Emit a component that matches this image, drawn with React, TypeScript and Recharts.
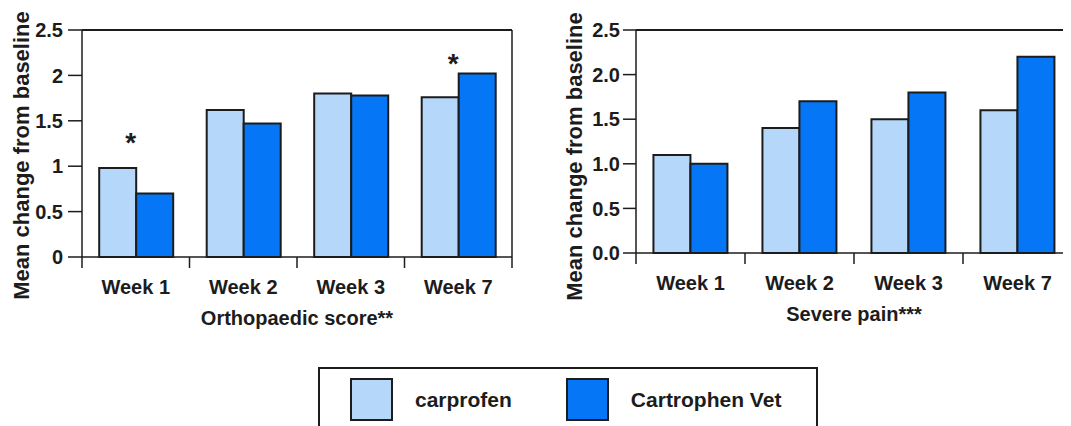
import React from "react";
import { BarChart, Bar, XAxis, YAxis, ReferenceLine, ReferenceDot } from "recharts";

// ---- data ----
const weeks = ["Week 1", "Week 2", "Week 3", "Week 7"];
const orthoCarprofen = [0.98, 1.62, 1.8, 1.76];
const orthoCartrophen = [0.7, 1.47, 1.78, 2.02];
const painCarprofen = [1.1, 1.4, 1.5, 1.6];
const painCartrophen = [1.0, 1.7, 1.8, 2.2];
const yTicks = [0, 0.5, 1, 1.5, 2, 2.5];
const seriesNames = ["carprofen", "Cartrophen Vet"];
const seriesColors = ["#B4D7FA", "#0576F5"];
const orthoSigWeeks = ["Week 1", "Week 7"];
const orthoSigLevels = [1.32, 2.19];
const painSigWeeks: string[] = [];
const painSigLevels: number[] = [];
const leftTitle = "Orthopaedic score**";
const rightTitle = "Severe pain***";
const yTitle = "Mean change from baseline";

const FONT = "Arial, 'Liberation Sans', Helvetica, sans-serif";
const INK = "#1c1c1c";
const X_TICK_SIZE = 11;
const X_TICK_MARGIN = 12;

const buildRows = (a: number[], b: number[]) =>
  weeks.map((w, i) => ({ week: w, carprofen: a[i], cartrophen: b[i] }));

const orthoRows = buildRows(orthoCarprofen, orthoCartrophen);
const painRows = buildRows(painCarprofen, painCartrophen);

function WeekTick(props: any) {
  const { x, y, payload, index } = props;
  const half = payload && payload.offset ? payload.offset : 0;
  const axisY = y - X_TICK_SIZE - X_TICK_MARGIN;
  const isLast = index === weeks.length - 1;
  return (
    <g>
      <line x1={x - half} x2={x - half} y1={axisY} y2={axisY + X_TICK_SIZE} stroke={INK} strokeWidth={1.5} />
      {isLast && (
        <line x1={x + half} x2={x + half} y1={axisY} y2={axisY + X_TICK_SIZE} stroke={INK} strokeWidth={1.5} />
      )}
      <text x={x} y={y + 14} textAnchor="middle" fontFamily={FONT} fontSize={20} fontWeight="bold" fill={INK}>
        {payload.value}
      </text>
    </g>
  );
}

const Star = (p: any) => (
  <text x={p.cx - 5} y={p.cy + 15} textAnchor="middle" fontFamily={FONT} fontSize={28} fontWeight="bold" fill={INK}>
    *
  </text>
);

type PanelProps = {
  rows: any[];
  title: string;
  width: number;
  margin: { top: number; right: number; bottom: number; left: number };
  yAxisWidth: number;
  yTickSize: number;
  yTickMargin: number;
  labelOffset: number;
  labelDy: number;
  fmt: (v: number) => string;
  sigWeeks: string[];
  sigLevels: number[];
};

function Panel(p: PanelProps) {
  return (
    <BarChart width={p.width} height={340} data={p.rows} margin={p.margin} barCategoryGap="16%" barGap={0}>
      <XAxis
        dataKey="week"
        height={80}
        tickSize={X_TICK_SIZE}
        tickMargin={X_TICK_MARGIN}
        tickLine={false}
        axisLine={{ stroke: INK, strokeWidth: 1.5 }}
        tick={<WeekTick />}
        interval={0}
        label={{
          value: p.title,
          position: "insideBottom",
          offset: 12,
          fill: INK,
          fontSize: 20,
          fontWeight: "bold",
          fontFamily: FONT,
        }}
      />
      <YAxis
        width={p.yAxisWidth}
        domain={[0, 2.5]}
        ticks={yTicks}
        tickFormatter={p.fmt}
        tickSize={p.yTickSize}
        tickMargin={p.yTickMargin}
        tickLine={{ stroke: INK, strokeWidth: 1.5 }}
        axisLine={{ stroke: INK, strokeWidth: 1.5 }}
        tick={{ fill: INK, fontSize: 20, fontWeight: "bold", fontFamily: FONT }}
        label={{
          value: yTitle,
          angle: -90,
          position: "insideLeft",
          offset: p.labelOffset,
          dy: p.labelDy,
          fill: INK,
          fontSize: 22,
          fontWeight: "bold",
          fontFamily: FONT,
          style: { textAnchor: "middle" },
        }}
      />
      <YAxis
        yAxisId="frame"
        orientation="right"
        width={1}
        domain={[0, 2.5]}
        tick={false}
        tickLine={false}
        axisLine={{ stroke: INK, strokeWidth: 1.5 }}
      />
      <ReferenceLine y={2.5} stroke={INK} strokeWidth={2} />
      <Bar dataKey="carprofen" name={seriesNames[0]} fill={seriesColors[0]} stroke={INK} strokeWidth={2} isAnimationActive={false} />
      <Bar dataKey="cartrophen" name={seriesNames[1]} fill={seriesColors[1]} stroke={INK} strokeWidth={2} isAnimationActive={false} />
      {p.sigWeeks.map((w, i) => (
        <ReferenceDot key={w} x={w} y={p.sigLevels[i]} r={1} shape={Star} />
      ))}
    </BarChart>
  );
}

function LegendBox() {
  return (
    <div
      style={{
        position: "absolute",
        left: 310,
        top: 359,
        width: 500,
        height: 80,
        border: `2px solid ${INK}`,
        display: "flex",
        alignItems: "flex-start",
        paddingLeft: 30,
        paddingTop: 9,
        boxSizing: "border-box",
        fontFamily: FONT,
        fontWeight: "bold",
        fontSize: 21,
        color: INK,
        whiteSpace: "nowrap",
      }}
    >
      {seriesNames.map((n, i) => (
        <div key={n} style={{ display: "flex", alignItems: "center", marginRight: 54, flexShrink: 0 }}>
          <div
            style={{
              width: 43,
              height: 43,
              boxSizing: "border-box",
              background: seriesColors[i],
              border: `2px solid ${INK}`,
              marginRight: 22,
              flexShrink: 0,
            }}
          />
          <span>{n}</span>
        </div>
      ))}
    </div>
  );
}

export default function App() {
  return (
    <div style={{ position: "relative", width: 1063, height: 418, overflow: "hidden", background: "#fff" }}>
      <div style={{ position: "absolute", left: 0, top: 0 }}>
        <Panel
          rows={orthoRows}
          title={leftTitle}
          width={530}
          margin={{ top: 22, right: 25, bottom: 11, left: 0 }}
          yAxisWidth={74}
          yTickSize={14}
          yTickMargin={5}
          labelOffset={13}
          labelDy={12}
          fmt={(v: number) => String(v)}
          sigWeeks={orthoSigWeeks}
          sigLevels={orthoSigLevels}
        />
      </div>
      <div style={{ position: "absolute", left: 540, top: 0 }}>
        <Panel
          rows={painRows}
          title={rightTitle}
          width={540}
          margin={{ top: 22, right: 15, bottom: 15, left: 0 }}
          yAxisWidth={88}
          yTickSize={13}
          yTickMargin={3}
          labelOffset={26}
          labelDy={15}
          fmt={(v: number) => v.toFixed(1)}
          sigWeeks={painSigWeeks}
          sigLevels={painSigLevels}
        />
      </div>
      <LegendBox />
    </div>
  );
}
